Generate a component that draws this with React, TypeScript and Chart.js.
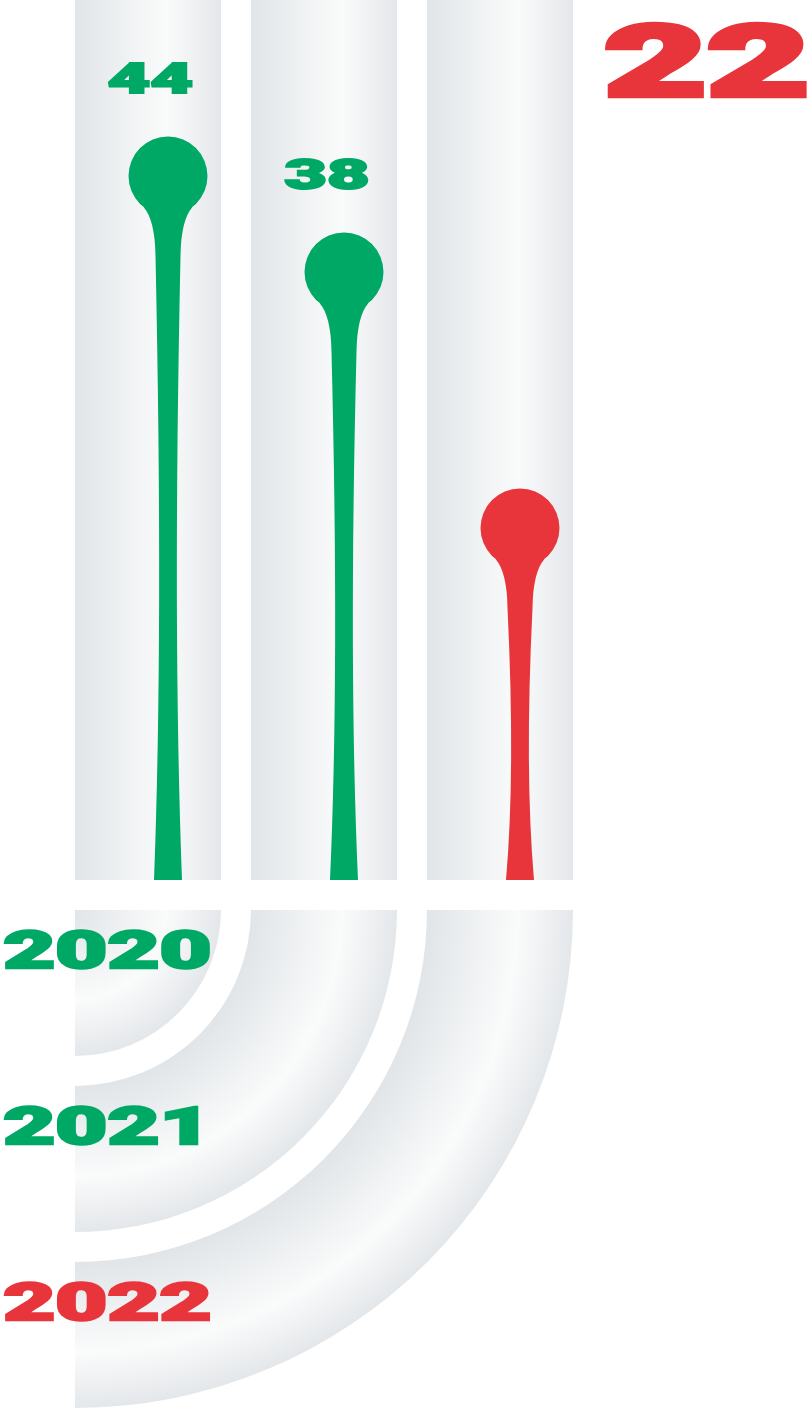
import React, { useEffect, useRef } from "react";
import { Chart, registerables } from "chart.js";

Chart.register(...registerables);

const years = ["2020", "2021", "2022"];
const values = [44, 38, 22];
const pointColors = ["#00a865", "#00a865", "#e8353b"];
const highlightIndex = 2;
const yMax = 55;

const FONT_FAMILY = 'Roboto, "Liberation Sans", sans-serif';
const FONT_WEIGHT = 900;
const YEAR_CAP = 39;
const YEAR_INK_WIDTH = 208;
const TUBE_LEFT = 93;
const TUBE_RIGHT = 53;
const HEAD_R = 39.5;
const GREY_A = "#e1e5e8";
const GREY_B = "#fafbfb";
const GREY_C = "#e4e7ea";

let stretch = 1.6;

function setFont(ctx: CanvasRenderingContext2D, cap: number, sw: number) {
  ctx.font = `${FONT_WEIGHT} 100px ${FONT_FAMILY}`;
  const ref = ctx.measureText("0").actualBoundingBoxAscent || 71;
  const size = ((cap - sw) * 100) / ref;
  ctx.font = `${FONT_WEIGHT} ${size}px ${FONT_FAMILY}`;
}

function computeStretch(ctx: CanvasRenderingContext2D) {
  ctx.save();
  const sw = YEAR_CAP * 0.06;
  setFont(ctx, YEAR_CAP, sw);
  const m = ctx.measureText(years[0]);
  const w = m.actualBoundingBoxLeft + m.actualBoundingBoxRight + sw;
  ctx.restore();
  if (w > 0) stretch = YEAR_INK_WIDTH / w;
}

function drawWide(
  ctx: CanvasRenderingContext2D,
  text: string,
  opts: { x: number; bottom: number; cap: number; align: "left" | "center" | "right"; color: string }
) {
  ctx.save();
  const sw = opts.cap * 0.06;
  setFont(ctx, opts.cap, sw);
  ctx.textAlign = "left";
  ctx.textBaseline = "alphabetic";
  const m = ctx.measureText(text);
  const bl = m.actualBoundingBoxLeft + sw / 2;
  const br = m.actualBoundingBoxRight + sw / 2;
  let x0: number;
  if (opts.align === "left") x0 = opts.x + bl * stretch;
  else if (opts.align === "right") x0 = opts.x - br * stretch;
  else x0 = opts.x - ((br - bl) / 2) * stretch;
  ctx.translate(x0, opts.bottom - sw / 2);
  ctx.scale(stretch, 1);
  ctx.fillStyle = opts.color;
  ctx.strokeStyle = opts.color;
  ctx.lineWidth = sw;
  ctx.lineJoin = "miter";
  ctx.fillText(text, 0, 0);
  ctx.strokeText(text, 0, 0);
  ctx.restore();
}

function greyStops(g: CanvasGradient) {
  g.addColorStop(0, GREY_A);
  g.addColorStop(0.62, GREY_B);
  g.addColorStop(1, GREY_C);
  return g;
}

function geometry(chart: any) {
  const { chartArea, scales } = chart;
  const xs = scales.x;
  const centers = years.map((_, i) => xs.getPixelForValue(i));
  const tubes = centers.map((c) => [c - TUBE_LEFT, c + TUBE_RIGHT]);
  const gap = centers.length > 1 ? centers[1] - centers[0] - (TUBE_LEFT + TUBE_RIGHT) : 30;
  const ax = tubes[0][0];
  const ay = chartArea.bottom + gap;
  return { centers, tubes, ax, ay };
}

const infographic = {
  id: "infographic",
  beforeDatasetsDraw(chart: any) {
    const { ctx, chartArea } = chart;
    const { tubes, ax, ay } = geometry(chart);
    ctx.save();
    tubes.forEach(([l, r]) => {
      ctx.fillStyle = greyStops(ctx.createLinearGradient(l, 0, r, 0));
      ctx.fillRect(l, chartArea.top, r - l, chartArea.bottom - chartArea.top);
    });
    tubes.forEach(([l, r]) => {
      const rin = l - ax;
      const rout = r - ax;
      ctx.fillStyle = greyStops(ctx.createRadialGradient(ax, ay, rin, ax, ay, rout));
      ctx.beginPath();
      ctx.arc(ax, ay, rout, 0, Math.PI / 2);
      if (rin > 0) ctx.arc(ax, ay, rin, Math.PI / 2, 0, true);
      else ctx.lineTo(ax, ay);
      ctx.closePath();
      ctx.fill();
    });
    const meta = chart.getDatasetMeta(0);
    meta.data.forEach((pt: any, i: number) => {
      const cx = pt.x;
      const cy = pt.y;
      const yB = chartArea.bottom;
      const th = (128 * Math.PI) / 180;
      const jx = -Math.cos(th) * HEAD_R;
      const jy = Math.sin(th) * HEAD_R;
      const yTop = cy + 80;
      const ctrlY = yTop + 0.6 * (yB - yTop);
      ctx.fillStyle = pointColors[i];
      ctx.beginPath();
      ctx.moveTo(cx - jx, cy + jy);
      ctx.quadraticCurveTo(cx - 13, cy + 44, cx - 12.5, yTop);
      ctx.quadraticCurveTo(cx - 4.5, ctrlY, cx - 14, yB);
      ctx.lineTo(cx + 14, yB);
      ctx.quadraticCurveTo(cx + 4.5, ctrlY, cx + 12.5, yTop);
      ctx.quadraticCurveTo(cx + 13, cy + 44, cx + jx, cy + jy);
      ctx.closePath();
      ctx.fill();
    });
    ctx.restore();
  },
  afterDatasetsDraw(chart: any) {
    const { ctx } = chart;
    const { tubes, ax, ay } = geometry(chart);
    computeStretch(ctx);
    const meta = chart.getDatasetMeta(0);
    meta.data.forEach((pt: any, i: number) => {
      if (i === highlightIndex) return;
      drawWide(ctx, String(values[i]), {
        x: pt.x - 18,
        bottom: pt.y - 82,
        cap: 32,
        align: "center",
        color: pointColors[i],
      });
    });
    drawWide(ctx, String(values[highlightIndex]), {
      x: chart.width - 4,
      bottom: 98,
      cap: 77,
      align: "right",
      color: pointColors[highlightIndex],
    });
    tubes.forEach(([l], i) => {
      const rin = l - ax;
      drawWide(ctx, years[i], {
        x: 3,
        bottom: ay + rin + 59,
        cap: YEAR_CAP,
        align: "left",
        color: pointColors[i],
      });
    });
  },
};

export default function App() {
  const ref = useRef<HTMLCanvasElement | null>(null);
  useEffect(() => {
    document.body.style.margin = "0";
    const canvas = ref.current;
    if (!canvas) return;
    const chart = new Chart(canvas, {
      type: "line",
      data: {
        labels: years,
        datasets: [
          {
            data: values,
            showLine: false,
            pointRadius: HEAD_R,
            pointHoverRadius: HEAD_R,
            pointBorderWidth: 0,
            pointBackgroundColor: pointColors,
            pointBorderColor: pointColors,
            clip: false as any,
          },
        ],
      },
      options: {
        animation: false,
        responsive: true,
        maintainAspectRatio: false,
        events: [],
        layout: { autoPadding: false, padding: { left: 80, right: 204, top: 0, bottom: 528 } },
        plugins: { legend: { display: false }, tooltip: { enabled: false } },
        scales: {
          x: { type: "category", offset: true, display: false },
          y: { type: "linear", min: 0, max: yMax, display: false },
        },
      },
      plugins: [infographic],
    });
    return () => chart.destroy();
  }, []);
  return (
    <div style={{ position: "absolute", left: 0, top: 0, width: 812, height: 1408, background: "#fff" }}>
      <canvas ref={ref} />
    </div>
  );
}
